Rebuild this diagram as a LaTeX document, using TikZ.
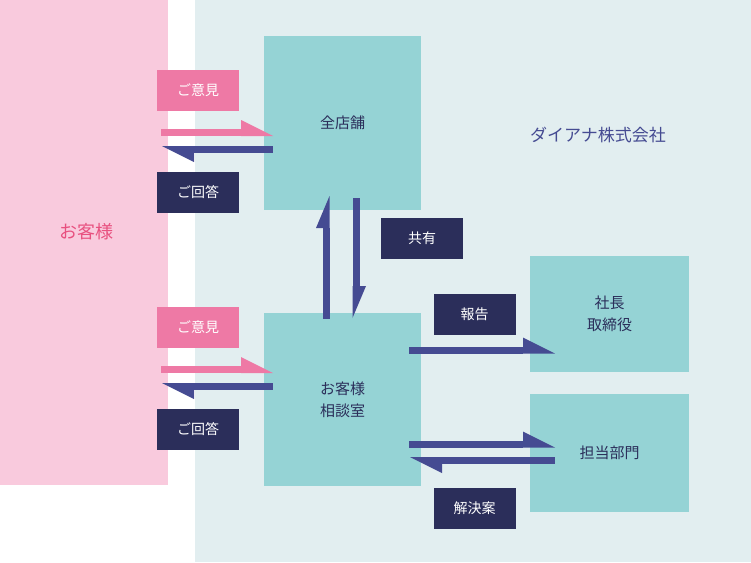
\documentclass[tikz,border=0pt]{standalone}
\usepackage{fontspec}
\newfontfamily\jp{Noto Sans CJK JP}
\usetikzlibrary{positioning}
\definecolor{pinkbg}{HTML}{F9CADD}
\definecolor{bluebg}{HTML}{E2EEF0}
\definecolor{teal}{HTML}{95D3D5}
\definecolor{pinklab}{HTML}{EE79A5}
\definecolor{navylab}{HTML}{2B2E5A}
\definecolor{navyarr}{HTML}{454B92}
\definecolor{pinktxt}{HTML}{E8507F}
\tikzset{
  box/.style={fill=teal, minimum width=157pt, align=center, font=\jp\fontsize{15}{22}\selectfont, text=navylab},
  tagpink/.style={fill=pinklab, minimum width=82pt, minimum height=41pt, text=white, font=\jp\fontsize{14}{16}\selectfont},
  tagnavy/.style={fill=navylab, minimum width=82pt, minimum height=41pt, text=white, font=\jp\fontsize{14}{16}\selectfont},
}
% horizontal harpoon: from x #1 to tip x #2 at y #3, head side #4 (-1 up, 1 down)
\newcommand\harpH[4]{%
  \pgfmathsetmacro\dir{sign(#2-#1)}
  \fill (#1,#3-3.5) rectangle (#2-\dir*32,#3+3.5);
  \fill (#2-\dir*32,#3-#4*3.5) -- (#2-\dir*32,#3+#4*12.5) -- (#2,#3-#4*3.5) -- cycle;}
\begin{document}
\begin{tikzpicture}[x=1pt,y=-1pt]
	\useasboundingbox (0,0) rectangle (751,562);
	\fill[pinkbg] (0,0) rectangle (168,485);
	\fill[bluebg] (195,0) rectangle (751,562);
	\node[text=pinktxt, font=\jp\fontsize{18}{20}\selectfont] (guest) at (86,232) {お客様};
	\node[text=navyarr, font=\jp\fontsize{17}{20}\selectfont] (company) at (598,135) {ダイアナ株式会社};
	\node[box, minimum height=174pt] (shop) at (342.5,123) {全店舗};
	\node[box, minimum height=173pt] (desk) at (342.5,399.5) {お客様\\相談室};
	\node[box, minimum width=159pt, minimum height=116pt] (boss) at (609.5,314) {社長\\取締役};
	\node[box, minimum width=159pt, minimum height=118pt] (dept) at (609.5,453) {担当部門};
	\node[tagpink] (op1) at (198,90) {ご意見};
	\node[tagnavy] (re1) at (198,192.5) {ご回答};
	\node[tagpink] (op2) at (198,327) {ご意見};
	\node[tagnavy] (re2) at (198,429.5) {ご回答};
	\node[tagnavy] (share) at (422,238.5) {共有};
	\node[tagnavy] (report) at (474.5,314.5) {報告};
	\node[tagnavy] (solve) at (474.5,508.5) {解決案};
	% arrows
	\begin{scope}[pinklab]
		\harpH{161}{273}{132.5}{-1}
		\harpH{161}{273}{369.5}{-1}
	\end{scope}
	\begin{scope}[navyarr]
		\harpH{273}{162}{149.5}{1}
		\harpH{273}{162}{386.5}{1}
		\harpH{409}{555}{350}{-1}
		\harpH{409}{555}{444}{-1}
		\harpH{555}{410}{460.5}{1}
		% vertical
		\fill (322.5,319) rectangle (329.5,228);
		\fill (329.5,228) -- (316,228) -- (329.5,196) -- cycle;
		\fill (352.5,198) rectangle (359.5,286);
		\fill (352.5,286) -- (366,286) -- (352.5,318) -- cycle;
	\end{scope}
\end{tikzpicture}
\end{document}
